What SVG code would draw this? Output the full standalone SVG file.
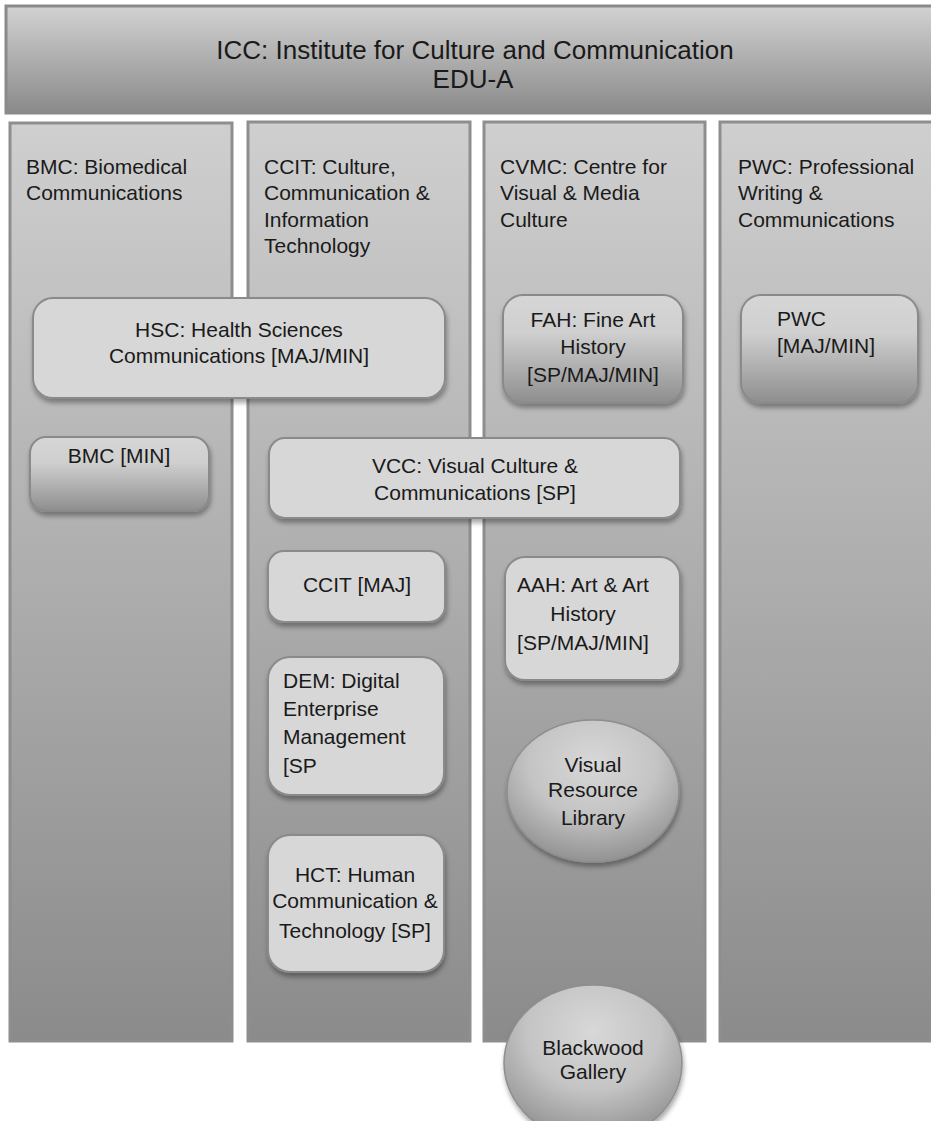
<svg xmlns="http://www.w3.org/2000/svg" width="931" height="1121" viewBox="0 0 931 1121">
<defs>
<linearGradient id="gBanner" x1="0" y1="0" x2="0" y2="1">
<stop offset="0" stop-color="#d2d2d2"/><stop offset="1" stop-color="#8a8a8a"/>
</linearGradient>
<linearGradient id="gCol" x1="0" y1="0" x2="0" y2="1">
<stop offset="0" stop-color="#cfcfcf"/><stop offset="1" stop-color="#8b8b8b"/>
</linearGradient>
<linearGradient id="gBox" x1="0" y1="0" x2="0" y2="1">
<stop offset="0" stop-color="#d6d6d6"/><stop offset="0.35" stop-color="#cfcfcf"/><stop offset="1" stop-color="#8e8e8e"/>
</linearGradient>
<radialGradient id="gOval" cx="0.5" cy="0.3" r="0.75">
<stop offset="0" stop-color="#d8d8d8"/><stop offset="0.5" stop-color="#c4c4c4"/><stop offset="1" stop-color="#8a8a8a"/>
</radialGradient>
<filter id="sh" x="-10%" y="-10%" width="125%" height="130%">
<feDropShadow dx="1" dy="4" stdDeviation="2.5" flood-color="#000" flood-opacity="0.35"/>
</filter>
</defs>
<style>
text{font-family:"Liberation Sans",Arial,sans-serif;fill:#1a1a1a;font-size:21px}
text.big{font-size:26px}
.c{text-anchor:middle}
.col{fill:url(#gCol);stroke:#8e8e8e;stroke-width:3}
.lb{fill:#d7d7d7;stroke:#8a8a8a;stroke-width:2;filter:url(#sh)}
.gb{fill:url(#gBox);stroke:#8a8a8a;stroke-width:2;filter:url(#sh)}
.ov{fill:url(#gOval);stroke:#8e8e8e;stroke-width:1.5;filter:url(#sh)}
</style>
<rect width="931" height="1121" fill="#ffffff"/>
<g id="icc">
<rect x="6" y="6" width="930" height="107" fill="url(#gBanner)" stroke="#8a8a8a" stroke-width="3"/>
<text class="c big" x="475" y="59">ICC: Institute for Culture and Communication</text>
<text class="c big" x="473" y="88">EDU-A</text>
</g>
<g id="col-bmc">
<rect class="col" x="10" y="123" width="222" height="918"/>
<text x="26" y="174">BMC: Biomedical</text>
<text x="26" y="200">Communications</text>
</g>
<g id="col-ccit">
<rect class="col" x="248" y="122" width="222" height="919"/>
<text x="264" y="174">CCIT: Culture,</text>
<text x="264" y="200">Communication &amp;</text>
<text x="264" y="227">Information</text>
<text x="264" y="253">Technology</text>
</g>
<g id="col-cvmc">
<rect class="col" x="484" y="122" width="221" height="919"/>
<text x="500" y="174">CVMC: Centre for</text>
<text x="500" y="200">Visual &amp; Media</text>
<text x="500" y="227">Culture</text>
</g>
<g id="col-pwc">
<rect class="col" x="720" y="122" width="216" height="919"/>
<text x="738" y="174">PWC: Professional</text>
<text x="738" y="200">Writing &amp;</text>
<text x="738" y="227">Communications</text>
</g>
<g id="hsc">
<rect class="lb" x="33" y="298" width="412" height="100" rx="20"/>
<text class="c" x="239" y="337">HSC: Health Sciences</text>
<text class="c" x="239" y="363">Communications [MAJ/MIN]</text>
</g>
<g id="fah">
<rect class="gb" x="503" y="295" width="180" height="108" rx="20"/>
<text class="c" x="593" y="327">FAH: Fine Art</text>
<text class="c" x="593" y="354">History</text>
<text class="c" x="593" y="382">[SP/MAJ/MIN]</text>
</g>
<g id="pwc">
<rect class="gb" x="741" y="295" width="177" height="108" rx="20"/>
<text x="777" y="326">PWC</text>
<text x="777" y="353">[MAJ/MIN]</text>
</g>
<g id="bmc-min">
<rect class="gb" x="30" y="437" width="179" height="74" rx="16"/>
<text class="c" x="119" y="463">BMC [MIN]</text>
</g>
<g id="vcc">
<rect class="lb" x="269" y="438" width="411" height="80" rx="16"/>
<text class="c" x="475" y="473">VCC: Visual Culture &amp;</text>
<text class="c" x="475" y="500">Communications [SP]</text>
</g>
<g id="ccit-maj">
<rect class="lb" x="268" y="551" width="177" height="71" rx="16"/>
<text class="c" x="357" y="592">CCIT [MAJ]</text>
</g>
<g id="aah">
<rect class="lb" x="505" y="557" width="175" height="123" rx="20"/>
<text class="c" x="583" y="592">AAH: Art &amp; Art</text>
<text class="c" x="583" y="621">History</text>
<text class="c" x="583" y="650">[SP/MAJ/MIN]</text>
</g>
<g id="dem">
<rect class="lb" x="268" y="657" width="176" height="138" rx="22"/>
<text x="283" y="688">DEM: Digital</text>
<text x="283" y="716">Enterprise</text>
<text x="283" y="744">Management</text>
<text x="283" y="773">[SP</text>
</g>
<g id="hct">
<rect class="lb" x="268" y="835" width="176" height="137" rx="22"/>
<text class="c" x="355" y="882">HCT: Human</text>
<text class="c" x="355" y="908">Communication &amp;</text>
<text class="c" x="355" y="938">Technology [SP]</text>
</g>
<g id="vrl">
<ellipse class="ov" cx="593" cy="791" rx="86" ry="71"/>
<text class="c" x="593" y="772">Visual</text>
<text class="c" x="593" y="797">Resource</text>
<text class="c" x="593" y="825">Library</text>
</g>
<g id="blackwood">
<ellipse class="ov" cx="593" cy="1063" rx="89" ry="78"/>
<text class="c" x="593" y="1055">Blackwood</text>
<text class="c" x="593" y="1079">Gallery</text>
</g>
<g id="connectors"></g>
</svg>
